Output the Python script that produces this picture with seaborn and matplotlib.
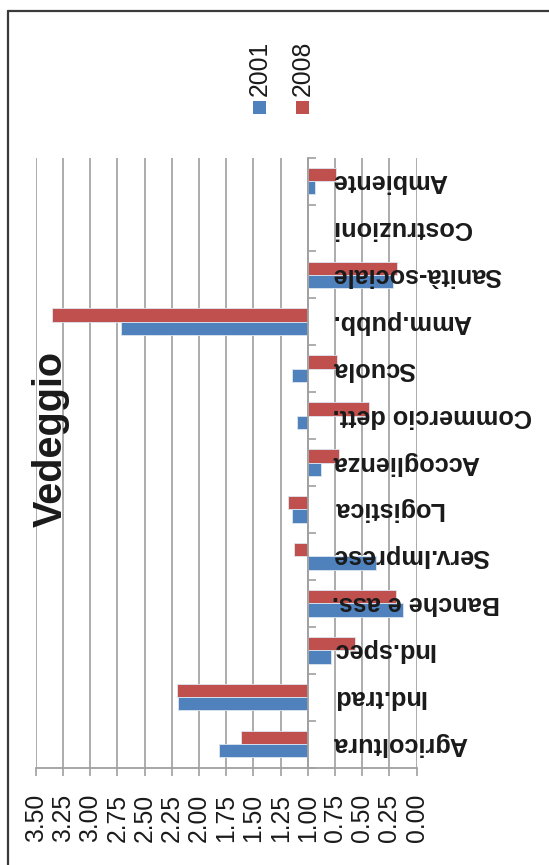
"""
Vedeggio: location quotients by sector, 2001 vs 2008 (rotated column chart).
"""

import numpy as np
import pandas as pd
import matplotlib
matplotlib.use('Agg')
import matplotlib.pyplot as plt
from matplotlib.lines import Line2D
from matplotlib.patches import Rectangle
import seaborn as sns

# ================================================================
# Data
# ================================================================
sectors = ['Agricoltura', 'Ind.trad', 'Ind.spec', 'Banche e ass.', 'Serv.Imprese',
           'Logistica', 'Accoglienza', 'Commercio dett.', 'Scuola', 'Amm.pubb.',
           'Sanità-sociale', 'Costruzioni', 'Ambiente']
vals_2001 = [1.82, 2.19, 0.79, 0.13, 0.37, 1.15, 0.88, 1.10, 1.15, 2.72, 0.22, np.nan, 0.93]
vals_2008 = [1.61, 2.20, 0.57, 0.19, 1.13, 1.18, 0.71, 0.44, 0.73, 3.35, 0.18, np.nan, 0.74]
years = ['2001', '2008']
x_ticks = [0.00, 0.25, 0.50, 0.75, 1.00, 1.25, 1.50, 1.75, 2.00, 2.25, 2.50, 2.75, 3.00, 3.25, 3.50]
title = 'Vedeggio'

BASELINE = 1.0
COLORS = {'2001': '#4F81BD', '2008': '#C0504D'}

df = pd.concat([
    pd.DataFrame({'sector': sectors, 'year': '2001', 'value': vals_2001}),
    pd.DataFrame({'sector': sectors, 'year': '2008', 'value': vals_2008}),
], ignore_index=True).dropna()
df['delta'] = df['value'] - BASELINE

# ================================================================
# Plot
# ================================================================
sns.set_theme(style='white')
plt.rcParams['font.family'] = ['Liberation Sans', 'DejaVu Sans']

W, H = 549, 865
fig = plt.figure(figsize=(W / 100, H / 100), dpi=100)
ax = fig.add_axes([35.7 / W, 1 - 767.5 / H, (416.7 - 35.7) / W, (767.5 - 157.6) / H])

# bars start at the baseline (1.0), first sector at the bottom
order = sectors[::-1]
sns.barplot(data=df, x='delta', y='sector', hue='year', order=order,
            hue_order=['2008', '2001'], palette=COLORS, saturation=1,
            orient='h', width=0.57, errorbar=None, legend=False,
            left=BASELINE, edgecolor='#dde6f0', linewidth=0.6, ax=ax, zorder=3)

ax.set_xlim(3.5, 0.0)
ax.set_ylim(len(sectors) - 0.5, -0.5)

# grid and axes
ax.set_xticks(x_ticks)
ax.set_xticklabels([f'{t:.2f}' for t in x_ticks], rotation=90, fontsize=17.8,
                   color='#1a1a1a')
ax.xaxis.grid(True, color='#a6a6a6', linewidth=1.3, zorder=0)
ax.set_axisbelow(True)
ax.tick_params(axis='x', bottom=True, length=6, width=1.2, color='#a0a0a0',
               direction='out', pad=13)

ax.set_yticks(np.arange(-0.5, len(sectors), 1.0))
ax.set_yticklabels([])
ax.spines['left'].set_position(('data', BASELINE))
ax.tick_params(axis='y', left=True, length=6, width=1.2, color='#a0a0a0',
               direction='in', labelleft=False)

for side in ['top', 'right']:
    ax.spines[side].set_visible(False)
for side in ['left', 'bottom']:
    ax.spines[side].set_color('#a0a0a0')
    ax.spines[side].set_linewidth(1.3)
    ax.spines[side].set_zorder(4)

ax.set_xlabel('')
ax.set_ylabel('')

# category labels, upside down next to the baseline
for i, name in enumerate(order):
    ax.text(0.775, i, name, rotation=180, ha='left', va='center',
            fontsize=18.2, fontweight='bold', color='#1a1a1a', zorder=5)

# title
fig.text(50.5 / W, 1 - 439 / H, title, rotation=90, ha='center', va='center',
         fontsize=28.5, fontweight='bold', color='#1a1a1a')

# legend
for year, xc in zip(years, [259.5, 302.5]):
    fig.text(xc / W, 1 - 68 / H, year, rotation=90, ha='center', va='center',
             fontsize=17.8, color='#1a1a1a')
    fig.patches.append(Rectangle(((xc - 6.5) / W, 1 - 114 / H), 13 / W, 13 / H,
                                 transform=fig.transFigure, facecolor=COLORS[year],
                                 edgecolor='none'))

# chart frame (only left and top edges visible)
fx, fy = 8.4 / W, 1 - 10.5 / H
fig.lines.append(Line2D([fx, fx], [0, fy], transform=fig.transFigure,
                        color='#3a3a3a', linewidth=1.6))
fig.lines.append(Line2D([fx, 1], [fy, fy], transform=fig.transFigure,
                        color='#3a3a3a', linewidth=1.6))

fig.savefig('out.png', dpi=100)
plt.close(fig)
